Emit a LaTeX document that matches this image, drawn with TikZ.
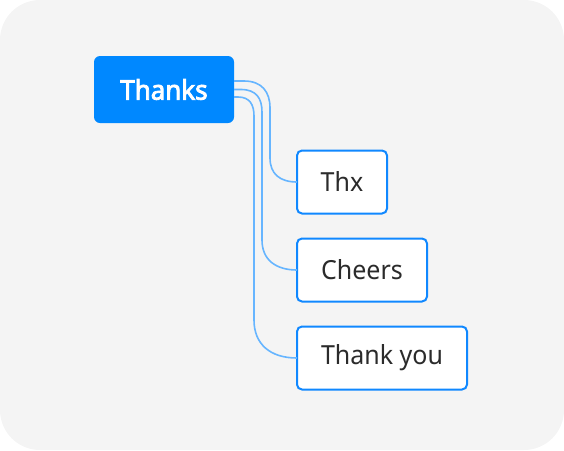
\documentclass[tikz,border=0pt]{standalone}
\usepackage{fontspec}
\setmainfont{Noto Sans}
\newfontfamily\childfont[FakeStretch=0.95]{Noto Sans}
\newfontfamily\rootfont[FakeBold=3,FakeStretch=0.96]{Noto Sans}
\usetikzlibrary{calc}
\definecolor{bgc}{HTML}{F4F4F4}
\definecolor{rootc}{HTML}{0088FF}
\definecolor{bordc}{HTML}{1088FF}
\definecolor{linec}{HTML}{66B5FF}
\definecolor{txtc}{HTML}{2B2B2B}
\tikzset{
  rootbox/.style={fill=rootc, draw=none, rounded corners=6pt, minimum width=140pt, minimum height=67pt, inner sep=0pt, outer sep=0pt, text=white, font=\rootfont\fontsize{27pt}{30pt}\selectfont},
  childbox/.style={fill=white, draw=bordc, line width=2pt, rounded corners=5pt, minimum height=63pt, inner sep=0pt, outer sep=0pt, text=txtc, font=\childfont\fontsize{26.3pt}{30pt}\selectfont, anchor=west},
  conn/.style={draw=linec, line width=1.6pt}
}
\begin{document}
\begin{tikzpicture}[x=1pt,y=-1pt]
\useasboundingbox (0,0) rectangle (564,450);
\fill[bgc, rounded corners=40pt] (0,0) rectangle (564,450);
\node[rootbox] (root) at (164,89.5) {Thanks};
\node[childbox, minimum width=90pt] (c1) at (297,182) {Thx};
\node[childbox, minimum width=130pt] (c2) at (297,270) {Cheers};
\node[childbox, minimum width=170pt] (c3) at (297,358) {Thank you};
\coordinate (s1) at ($(root.east)+(0,-8.5)$);
\coordinate (s2) at ($(root.east)+(0,0)$);
\coordinate (s3) at ($(root.east)+(0,7.5)$);
\draw[conn] (s1) -- (244,81) .. controls (262,81) and (270,92) .. (270,108) -- (270,158) .. controls (270,174) and (280,182) .. (c1.west);
\draw[conn] (s2) -- (241,89.5) .. controls (256,89.5) and (262,98) .. (262,112) -- (262,240) .. controls (262,260) and (276,270) .. (c2.west);
\draw[conn] (s3) -- (238,97) .. controls (250,97) and (254,105) .. (254,116) -- (254,320) .. controls (254,344) and (270,358) .. (c3.west);
\end{tikzpicture}
\end{document}
